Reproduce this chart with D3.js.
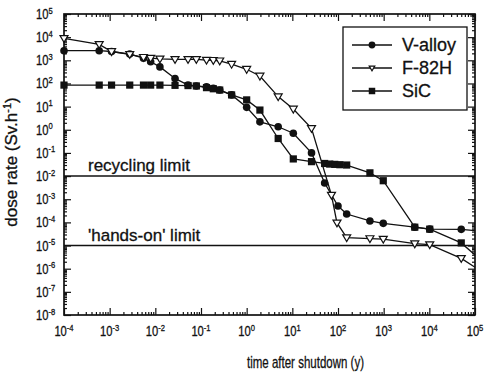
<!DOCTYPE html>
<html>
  <head>
    <meta charset="utf-8">
    <title>Dose rate after shutdown</title>
    <script src="https://cdn.jsdelivr.net/npm/d3@7"></script>
    <style>
      body { margin: 0; background: #fff; }
      text { font-family: "Liberation Sans", Arial, sans-serif; fill: #111; stroke: #111; stroke-width: 0.3; }
    </style>
  </head>
  <body>
    <div id="chart"></div>
    <script>
      // data (time in years, dose rate in Sv/h)
      var vTimes = [1e-4, 5.9e-4, 1.1e-3, 2.75e-3, 5.5e-3, 7.9e-3, 1.26e-2, 2.7e-2, 5.2e-2, 7.9e-2, 0.132, 0.186, 0.257, 0.468, 1, 1.95, 4.9, 10.5, 26.3, 51, 100, 155, 500, 980, 4800, 10200, 50000, 1e5];
      var vDose = [2600, 2600, 2400, 1850, 1230, 870, 520, 165, 85, 78, 71, 62, 52, 32, 9.3, 2.2, 1.35, 0.71, 0.1, 5e-3, 5.1e-4, 2.3e-4, 1.15e-4, 9.1e-5, 6.2e-5, 5.1e-5, 5.0e-5, 4.4e-5];
      var fTimes = [1e-4, 5.9e-4, 1.1e-3, 2.75e-3, 5.5e-3, 7.9e-3, 1.26e-2, 2.7e-2, 5.2e-2, 7.9e-2, 0.132, 0.186, 0.257, 0.468, 1, 1.95, 4.9, 10.5, 26.3, 72, 95, 155, 500, 980, 4800, 10200, 50000, 1e5];
      var fDose = [8900, 4900, 2400, 1800, 1350, 1230, 1150, 1100, 1100, 1100, 1020, 1000, 950, 680, 410, 210, 27, 7.9, 1.15, 1.5e-3, 9.5e-5, 2.2e-5, 2.0e-5, 1.9e-5, 1.2e-5, 1.1e-5, 2.8e-6, 1.15e-6];
      var sTimes = [1e-4, 5.9e-4, 1.1e-3, 2.75e-3, 5.5e-3, 7.9e-3, 1.26e-2, 2.7e-2, 5.2e-2, 7.9e-2, 0.132, 0.186, 0.257, 0.468, 1, 1.95, 4.9, 10.5, 26.3, 51, 66, 85, 110, 155, 500, 980, 4800, 10200, 50000, 1e5];
      var sDose = [85, 85, 85, 85, 85, 85, 85, 83, 81, 78, 66, 59, 52, 32, 19.5, 7.1, 0.42, 0.055, 0.042, 0.035, 0.033, 0.032, 0.031, 0.030, 0.0138, 6.3e-3, 6.2e-5, 5.1e-5, 1.3e-5, 3.9e-6];
      var seriesNames = ["V-alloy", "F-82H", "SiC"];
      var limitValues = [1e-2, 1e-5];
      var limitLabels = ["recycling limit", "'hands-on' limit"];
      var xExponents = [-4, -3, -2, -1, 0, 1, 2, 3, 4, 5];
      var yExponents = [-8, -7, -6, -5, -4, -3, -2, -1, 0, 1, 2, 3, 4, 5];

      var width = 489, height = 375;
      var margin = { top: 14, right: 14, bottom: 60, left: 64 };

      var svg = d3.select("#chart")
        .append("svg")
        .attr("width", width)
        .attr("height", height);

      var x = d3.scaleLog()
        .domain([1e-4, 1e5])
        .range([margin.left, width - margin.right]);
      var y = d3.scaleLog()
        .domain([1e-8, 1e5])
        .range([height - margin.bottom, margin.top]);

      // minor log ticks (2..9 in every decade)
      function minorTicks(exps) {
        var out = [];
        exps.slice(0, -1).forEach(function(e) {
          for (var m = 2; m < 10; m++) out.push(m * Math.pow(10, e));
        });
        return out;
      }
      var xMajor = xExponents.map(function(e) { return Math.pow(10, e); });
      var yMajor = yExponents.map(function(e) { return Math.pow(10, e); });

      // axes with inward ticks on all four sides
      function addAxis(axis, tx, ty) {
        var g = svg.append("g")
          .attr("transform", "translate(" + tx + "," + ty + ")")
          .call(axis);
        g.select(".domain").remove();
        g.selectAll("line").attr("stroke", "#111").attr("stroke-width", 1.2);
      }
      var x0 = margin.left, x1 = width - margin.right;
      var y0 = height - margin.bottom, y1 = margin.top;
      [[d3.axisBottom, 0, y0], [d3.axisTop, 0, y1]].forEach(function(a) {
        addAxis(a[0](x).tickValues(xMajor).tickSize(-7).tickFormat(""), a[1], a[2]);
        addAxis(a[0](x).tickValues(minorTicks(xExponents)).tickSize(-3).tickFormat(""), a[1], a[2]);
      });
      [[d3.axisLeft, x0, 0], [d3.axisRight, x1, 0]].forEach(function(a) {
        addAxis(a[0](y).tickValues(yMajor).tickSize(-7).tickFormat(""), a[1], a[2]);
        addAxis(a[0](y).tickValues(minorTicks(yExponents)).tickSize(-3).tickFormat(""), a[1], a[2]);
      });

      // frame
      svg.append("rect")
        .attr("x", x0)
        .attr("y", y1)
        .attr("width", x1 - x0)
        .attr("height", y0 - y1)
        .attr("fill", "none")
        .attr("stroke", "#111")
        .attr("stroke-width", 1.7);

      // tick labels 10^n
      function powerLabel(sel, e) {
        sel.append("tspan").text("10");
        sel.append("tspan")
          .attr("dy", -5.5)
          .attr("font-size", 9.5)
          .text(String(e));
      }
      xExponents.forEach(function(e) {
        var t = svg.append("text")
          .attr("transform", "translate(" + x(Math.pow(10, e)) + "," + (y0 + 21) + ") scale(0.8,1)")
          .attr("text-anchor", "middle")
          .attr("font-size", 14);
        powerLabel(t, e);
      });
      yExponents.forEach(function(e) {
        var t = svg.append("text")
          .attr("transform", "translate(36," + (y(Math.pow(10, e)) + 5) + ") scale(0.8,1)")
          .attr("font-size", 14);
        powerLabel(t, e);
      });

      // axis titles
      svg.append("text")
        .attr("x", 247)
        .attr("y", 368)
        .attr("font-size", 17)
        .attr("textLength", 117)
        .attr("lengthAdjust", "spacingAndGlyphs")
        .text("time after shutdown (y)");
      var yt = svg.append("text")
        .attr("transform", "translate(17,162) rotate(-90)")
        .attr("text-anchor", "middle")
        .attr("font-size", 17);
      yt.append("tspan").text("dose rate (Sv.h");
      yt.append("tspan").attr("dy", -6).attr("font-size", 11).text("-1");
      yt.append("tspan").attr("dy", 6).text(")");

      // limit lines
      limitValues.forEach(function(v, i) {
        svg.append("line")
          .attr("x1", x0)
          .attr("x2", x1)
          .attr("y1", y(v))
          .attr("y2", y(v))
          .attr("stroke", "#111")
          .attr("stroke-width", 1.5);
        svg.append("text")
          .attr("x", 88)
          .attr("y", y(v) - 5)
          .attr("font-size", 17)
          .text(limitLabels[i]);
      });

      // series
      var series = [
        { name: seriesNames[0], times: vTimes, dose: vDose, shape: "circle" },
        { name: seriesNames[1], times: fTimes, dose: fDose, shape: "triangle" },
        { name: seriesNames[2], times: sTimes, dose: sDose, shape: "square" }
      ];
      var line = d3.line()
        .x(function(d) { return x(d[0]); })
        .y(function(d) { return y(d[1]); });

      function drawMarker(g, shape, cx, cy, s) {
        if (shape == "circle") {
          g.append("circle").attr("cx", cx).attr("cy", cy).attr("r", 3.8 * s)
            .attr("fill", "#111");
        } else if (shape == "square") {
          g.append("rect").attr("x", cx - 3.6 * s).attr("y", cy - 3.6 * s)
            .attr("width", 7.2 * s).attr("height", 7.2 * s).attr("fill", "#111");
        } else {
          var r = 4 * s;
          g.append("path")
            .attr("d", "M" + (cx - r) + "," + (cy - r * 0.7) + "L" + (cx + r) + "," + (cy - r * 0.7) + "L" + cx + "," + (cy + r) + "Z")
            .attr("fill", "#fff")
            .attr("stroke", "#111")
            .attr("stroke-width", 1.2);
        }
      }

      series.forEach(function(s) {
        var pts = s.times.map(function(t, i) { return [t, s.dose[i]]; });
        svg.append("path")
          .attr("d", line(pts))
          .attr("fill", "none")
          .attr("stroke", "#111")
          .attr("stroke-width", 1.3);
        var g = svg.append("g");
        pts.forEach(function(p) {
          if (p[0] < 1e5) drawMarker(g, s.shape, x(p[0]), y(p[1]), 1);
        });
      });

      // legend
      var legend = svg.append("g");
      legend.append("rect")
        .attr("x", 343)
        .attr("y", 27)
        .attr("width", 124)
        .attr("height", 83)
        .attr("fill", "#fff")
        .attr("stroke", "#111")
        .attr("stroke-width", 1.3);
      series.forEach(function(s, i) {
        var ly = 45 + i * 23;
        legend.append("line")
          .attr("x1", 352).attr("x2", 392)
          .attr("y1", ly).attr("y2", ly)
          .attr("stroke", "#111")
          .attr("stroke-width", 1.3);
        drawMarker(legend, s.shape, 372, ly, s.shape == "triangle" ? 0.7 : 0.9);
        legend.append("text")
          .attr("x", 402)
          .attr("y", ly + 6)
          .attr("font-size", 18)
          .text(s.name);
      });
    </script>
  </body>
</html>
